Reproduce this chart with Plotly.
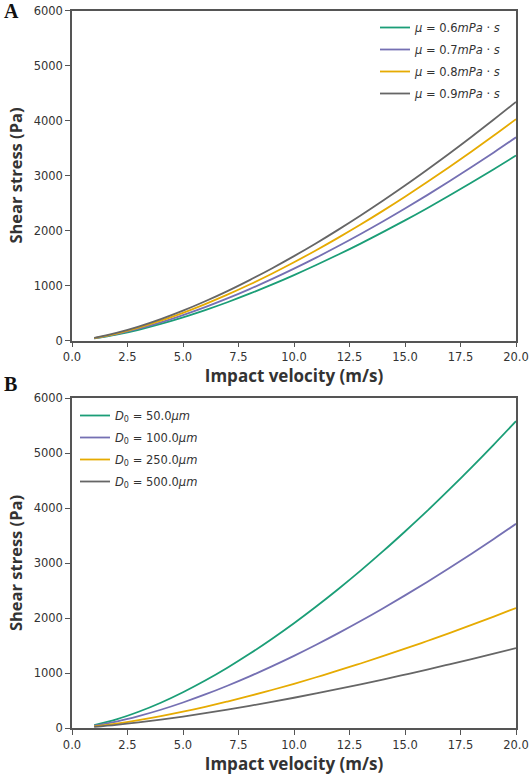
import plotly.graph_objects as go
from plotly.subplots import make_subplots

velocity = [1, 2, 3, 4, 5, 6, 7, 8, 9, 10, 11, 12, 13, 14, 15, 16, 17, 18, 19, 20]

# Panel A: viscosity
mu_labels = ["<i>μ</i> = 0.6<i>mPa</i> · <i>s</i>", "<i>μ</i> = 0.7<i>mPa</i> · <i>s</i>",
             "<i>μ</i> = 0.8<i>mPa</i> · <i>s</i>", "<i>μ</i> = 0.9<i>mPa</i> · <i>s</i>"]
mu_06 = [38, 106, 195, 301, 420, 553, 696, 851, 1015, 1189, 1372, 1563, 1762, 1970, 2184, 2406, 2635, 2872, 3114, 3363]
mu_07 = [41, 117, 215, 330, 462, 607, 765, 935, 1115, 1306, 1507, 1717, 1936, 2163, 2399, 2643, 2895, 3154, 3420, 3694]
mu_08 = [45, 127, 234, 360, 503, 662, 833, 1018, 1215, 1423, 1642, 1871, 2109, 2357, 2614, 2880, 3154, 3437, 3727, 4025]
mu_09 = [49, 137, 252, 388, 542, 713, 898, 1098, 1310, 1534, 1769, 2016, 2273, 2540, 2817, 3104, 3399, 3704, 4017, 4338]

# Panel B: droplet diameter
d_labels = ["<i>D</i><sub>0</sub> = 50.0<i>μm</i>", "<i>D</i><sub>0</sub> = 100.0<i>μm</i>",
            "<i>D</i><sub>0</sub> = 250.0<i>μm</i>", "<i>D</i><sub>0</sub> = 500.0<i>μm</i>"]
d_50 = [54, 157, 295, 460, 651, 863, 1096, 1348, 1619, 1905, 2209, 2528, 2861, 3210, 3573, 3947, 4337, 4739, 5153, 5579]
d_100 = [42, 117, 216, 332, 464, 610, 769, 939, 1121, 1312, 1514, 1725, 1945, 2174, 2411, 2656, 2909, 3169, 3437, 3712]
d_250 = [29, 79, 142, 215, 296, 385, 481, 583, 691, 804, 923, 1046, 1173, 1305, 1442, 1582, 1726, 1875, 2026, 2182]
d_500 = [22, 58, 102, 153, 208, 269, 334, 403, 475, 550, 629, 710, 794, 881, 971, 1062, 1157, 1253, 1351, 1452]

x_ticks = [0, 2.5, 5, 7.5, 10, 12.5, 15, 17.5, 20]
x_tick_labels = ["0.0", "2.5", "5.0", "7.5", "10.0", "12.5", "15.0", "17.5", "20.0"]
y_ticks = [0, 1000, 2000, 3000, 4000, 5000, 6000]

colors = ["#1b9e77", "#7570b3", "#e6ab02", "#666666"]

W, H = 531, 777
ML, MR, MT, MB = 72, 15, 10, 49
PH = H - MT - MB
PW = W - ML - MR

def py(px):
    return (H - MB - px) / PH

def pxx(px):
    return (px - ML) / PW

fig = make_subplots(rows=2, cols=1)
fig.update_layout(
    yaxis=dict(domain=[py(340.5), py(10.5)]),
    yaxis2=dict(domain=[0, py(398)]),
)

for i, (vals, lab, c) in enumerate(zip([mu_06, mu_07, mu_08, mu_09], mu_labels, colors)):
    fig.add_trace(go.Scatter(x=velocity, y=vals, name=lab, mode="lines",
                             line=dict(color=c, width=1.8, shape="spline"),
                             legend="legend", legendgroup=f"a{i}"), row=1, col=1)
for i, (vals, lab, c) in enumerate(zip([d_50, d_100, d_250, d_500], d_labels, colors)):
    fig.add_trace(go.Scatter(x=velocity, y=vals, name=lab, mode="lines",
                             line=dict(color=c, width=1.8, shape="spline"),
                             legend="legend2", legendgroup=f"b{i}"), row=2, col=1)

tickfont = dict(family="DejaVu Sans", size=11.5, color="#333333")
xtitlefont = dict(family="Open Sans", size=17, color="#333333", weight="bold")
ytitlefont = dict(family="Open Sans", size=16.5, color="#333333", weight="bold")
axis_common = dict(showline=True, linecolor="#555555", linewidth=1.5, mirror=True,
                   ticks="outside", ticklen=5, tickcolor="#555555", tickwidth=1.2,
                   showgrid=False, zeroline=False, tickfont=tickfont, automargin=False)

for r in (1, 2):
    fig.update_xaxes(range=[0, 20], tickvals=x_ticks, ticktext=x_tick_labels,
                     title=dict(text="Impact velocity (m/s)", font=xtitlefont, standoff=3),
                     row=r, col=1, **axis_common)
    fig.update_yaxes(range=[0, 6000], tickvals=y_ticks,
                     title=dict(text="Shear stress (Pa)", font=ytitlefont, standoff=7),
                     row=r, col=1, **axis_common)

legend_font = dict(family="DejaVu Sans", size=11.5, color="#333333")
fig.update_layout(
    width=W, height=H,
    margin=dict(l=ML, r=MR, t=MT, b=MB),
    paper_bgcolor="white", plot_bgcolor="white",
    showlegend=True,
    legend=dict(x=pxx(375), y=py(13), xanchor="left", yanchor="top",
                font=legend_font, bgcolor="rgba(0,0,0,0)", tracegroupgap=3,
                itemwidth=30),
    legend2=dict(x=pxx(75), y=py(401), xanchor="left", yanchor="top",
                 font=legend_font, bgcolor="rgba(0,0,0,0)", tracegroupgap=3,
                 itemwidth=30),
    annotations=[
        dict(text="<b>A</b>", x=pxx(2), y=py(11), xref="paper", yref="paper",
             xanchor="left", yanchor="middle", showarrow=False,
             font=dict(family="Liberation Serif", size=20, color="#111111")),
        dict(text="<b>B</b>", x=pxx(2), y=py(384), xref="paper", yref="paper",
             xanchor="left", yanchor="middle", showarrow=False,
             font=dict(family="Liberation Serif", size=20, color="#111111")),
    ],
)

fig.write_html("out.html", config={"displayModeBar": False},
               post_script="document.body.style.margin='0px';")
